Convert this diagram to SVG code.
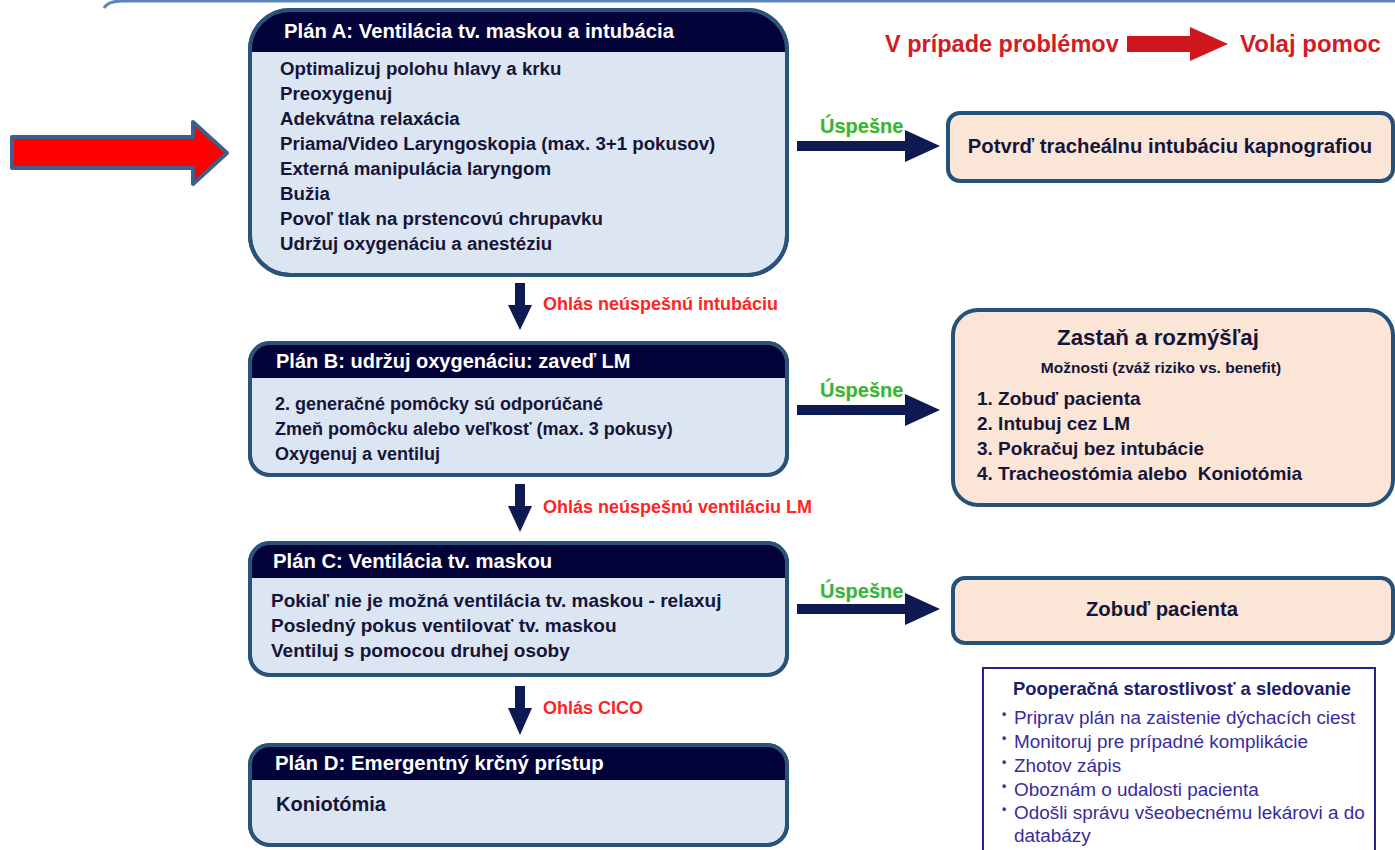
<svg xmlns="http://www.w3.org/2000/svg" width="1395" height="850" viewBox="0 0 1395 850">
<defs>
<style>
.box{fill:#dce6f2;stroke:#2b5279;stroke-width:4}
.hdr{fill:#03033a}
.ht{font-family:"Liberation Sans",Arial,sans-serif;font-weight:bold;font-size:20px;fill:#ffffff}
.bt{font-family:"Liberation Sans",Arial,sans-serif;font-weight:bold;font-size:18.7px;fill:#15153a}
.peach{fill:#fbe5d6;stroke:#24527a;stroke-width:4}
.red{font-family:"Liberation Sans",Arial,sans-serif;font-weight:bold;font-size:18px;fill:#ff2424}
.grn{font-family:"Liberation Sans",Arial,sans-serif;font-weight:bold;font-size:20px;fill:#35b34a;stroke:#e6f27a;stroke-width:0.6;paint-order:stroke}
.arr{fill:#0f1a52}
.big{font-family:"Liberation Sans",Arial,sans-serif;font-weight:bold;font-size:23.5px;fill:#d11c24}
.pt{font-family:"Liberation Sans",Arial,sans-serif;font-size:18.9px;fill:#3a2c9c}
.bul{font-family:"Liberation Sans",Arial,sans-serif;font-weight:bold;font-size:12px;fill:#3a2c9c}
</style>
<clipPath id="cA"><rect x="250" y="10" width="537" height="265" rx="40"/></clipPath>
<clipPath id="cB"><rect x="250" y="343" width="537" height="132" rx="20"/></clipPath>
<clipPath id="cC"><rect x="250" y="543" width="537" height="132" rx="20"/></clipPath>
<clipPath id="cD"><rect x="250" y="745" width="537" height="100" rx="20"/></clipPath>
</defs>
<rect width="1395" height="850" fill="#ffffff"/>
<path d="M104,8 Q108,1 122,1 H1395" fill="none" stroke="#5b85b8" stroke-width="3"/>

<g id="left-arrow">
<path d="M12,137 H193 V122 L227,153 L193,184 V168 H12 Z" fill="#ff0000" stroke="#3d5f8a" stroke-width="4" stroke-linejoin="round"/>
</g>

<g id="call-help">
<text class="big" x="885" y="52">V prípade problémov</text>
<path d="M1127,36 H1190 V27 L1228,44 L1190,61 V52 H1127 Z" fill="#d0171d"/>
<text class="big" x="1240" y="52" style="font-size:24px">Volaj pomoc</text>
</g>

<g id="planA">
<rect class="box" x="250" y="10" width="537" height="265" rx="40"/>
<rect class="hdr" x="250" y="10" width="537" height="42" clip-path="url(#cA)"/>
<rect x="250" y="10" width="537" height="265" rx="40" fill="none" stroke="#2b5279" stroke-width="4"/>
<text class="ht" x="284" y="38" style="font-size:20.3px">Plán A: Ventilácia tv. maskou a intubácia</text>
<text class="bt" x="280" y="75">Optimalizuj polohu hlavy a krku</text>
<text class="bt" x="280" y="100">Preoxygenuj</text>
<text class="bt" x="280" y="125">Adekvátna relaxácia</text>
<text class="bt" x="280" y="150">Priama/Video Laryngoskopia (max. 3+1 pokusov)</text>
<text class="bt" x="280" y="175">Externá manipulácia laryngom</text>
<text class="bt" x="280" y="200">Bužia</text>
<text class="bt" x="280" y="225">Povoľ tlak na prstencovú chrupavku</text>
<text class="bt" x="280" y="250">Udržuj oxygenáciu a anestéziu</text>
</g>

<g id="confirm">
<rect class="peach" x="948" y="113" width="445" height="68" rx="12"/>
<text class="bt" x="1170" y="153" text-anchor="middle" style="font-size:20.3px">Potvrď tracheálnu intubáciu kapnografiou</text>
</g>

<g id="planB">
<rect class="box" x="250" y="343" width="537" height="132" rx="20"/>
<rect class="hdr" x="250" y="343" width="537" height="35" clip-path="url(#cB)"/>
<rect x="250" y="343" width="537" height="132" rx="20" fill="none" stroke="#2b5279" stroke-width="4"/>
<text class="ht" x="276" y="368">Plán B: udržuj oxygenáciu: zaveď LM</text>
<text class="bt" x="275" y="410" style="font-size:18px">2. generačné pomôcky sú odporúčané</text>
<text class="bt" x="275" y="435" style="font-size:18px">Zmeň pomôcku alebo veľkosť (max. 3 pokusy)</text>
<text class="bt" x="275" y="460" style="font-size:18px">Oxygenuj a ventiluj</text>
</g>

<g id="think">
<rect class="peach" x="953" y="310" width="440" height="195" rx="25"/>
<text class="bt" x="1158" y="345" text-anchor="middle" style="font-size:22.3px">Zastaň a rozmýšľaj</text>
<text class="bt" x="1161" y="373" text-anchor="middle" style="font-size:15.5px">Možnosti (zváž riziko vs. benefit)</text>
<text class="bt" x="977" y="405" style="font-size:19px">1. Zobuď pacienta</text>
<text class="bt" x="977" y="430" style="font-size:19px">2. Intubuj cez LM</text>
<text class="bt" x="977" y="455" style="font-size:19px">3. Pokračuj bez intubácie</text>
<text class="bt" x="977" y="480" style="font-size:19px">4. Tracheostómia alebo&#160; Koniotómia</text>
</g>

<g id="planC">
<rect class="box" x="250" y="543" width="537" height="132" rx="20"/>
<rect class="hdr" x="250" y="543" width="537" height="35" clip-path="url(#cC)"/>
<rect x="250" y="543" width="537" height="132" rx="20" fill="none" stroke="#2b5279" stroke-width="4"/>
<text class="ht" x="273" y="568" style="font-size:20.3px">Plán C: Ventilácia tv. maskou</text>
<text class="bt" x="271" y="607" style="font-size:19px">Pokiaľ nie je možná ventilácia tv. maskou - relaxuj</text>
<text class="bt" x="271" y="632" style="font-size:19px">Posledný pokus ventilovať tv. maskou</text>
<text class="bt" x="271" y="657" style="font-size:19px">Ventiluj s pomocou druhej osoby</text>
</g>

<g id="wake">
<rect class="peach" x="953" y="578" width="440" height="65" rx="12"/>
<text class="bt" x="1162" y="616" text-anchor="middle" style="font-size:20.3px">Zobuď pacienta</text>
</g>

<g id="planD">
<rect class="box" x="250" y="745" width="537" height="100" rx="20"/>
<rect class="hdr" x="250" y="745" width="537" height="35" clip-path="url(#cD)"/>
<rect x="250" y="745" width="537" height="100" rx="20" fill="none" stroke="#2b5279" stroke-width="4"/>
<text class="ht" x="275" y="770" style="font-size:20.4px">Plán D: Emergentný krčný prístup</text>
<text class="bt" x="276" y="811" style="font-size:20px">Koniotómia</text>
</g>

<g id="postop">
<rect x="983" y="668" width="392" height="200" fill="#ffffff" stroke="#23238a" stroke-width="2"/>
<text x="1182" y="695" text-anchor="middle" font-family="Liberation Sans, Arial, sans-serif" font-weight="bold" style="font-size:18.4px" fill="#1c1c6e">Pooperačná starostlivosť a sledovanie</text>
<text class="bul" x="1002" y="718">•</text>
<text class="pt" x="1014" y="724">Priprav plán na zaistenie dýchacích ciest</text>
<text class="bul" x="1002" y="742">•</text>
<text class="pt" x="1014" y="748">Monitoruj pre prípadné komplikácie</text>
<text class="bul" x="1002" y="766">•</text>
<text class="pt" x="1014" y="772">Zhotov zápis</text>
<text class="bul" x="1002" y="790">•</text>
<text class="pt" x="1014" y="796">Oboznám o udalosti pacienta</text>
<text class="bul" x="1002" y="813">•</text>
<text class="pt" x="1014" y="819">Odošli správu všeobecnému lekárovi a do</text>
<text class="pt" x="1014" y="842">databázy</text>
</g>

<g id="connectors">
<path class="arr" d="M797,141 H905 V130 L940,146 L905,162 V151 H797 Z"/>
<text class="grn" x="820" y="133">Úspešne</text>
<path class="arr" d="M797,405 H905 V394 L940,410 L905,426 V415 H797 Z"/>
<text class="grn" x="820" y="397">Úspešne</text>
<path class="arr" d="M797,604 H905 V593 L940,609 L905,625 V614 H797 Z"/>
<text class="grn" x="820" y="598">Úspešne</text>
<path class="arr" d="M515,283 H525 V305 H532 L520,330 L508,305 H515 Z"/>
<text class="red" x="543" y="310">Ohlás neúspešnú intubáciu</text>
<path class="arr" d="M515,484 H525 V506 H532 L520,532 L508,506 H515 Z"/>
<text class="red" x="543" y="513">Ohlás neúspešnú ventiláciu LM</text>
<path class="arr" d="M515,686 H525 V708 H532 L520,735 L508,708 H515 Z"/>
<text class="red" x="543" y="714">Ohlás CICO</text>
</g>
</svg>
